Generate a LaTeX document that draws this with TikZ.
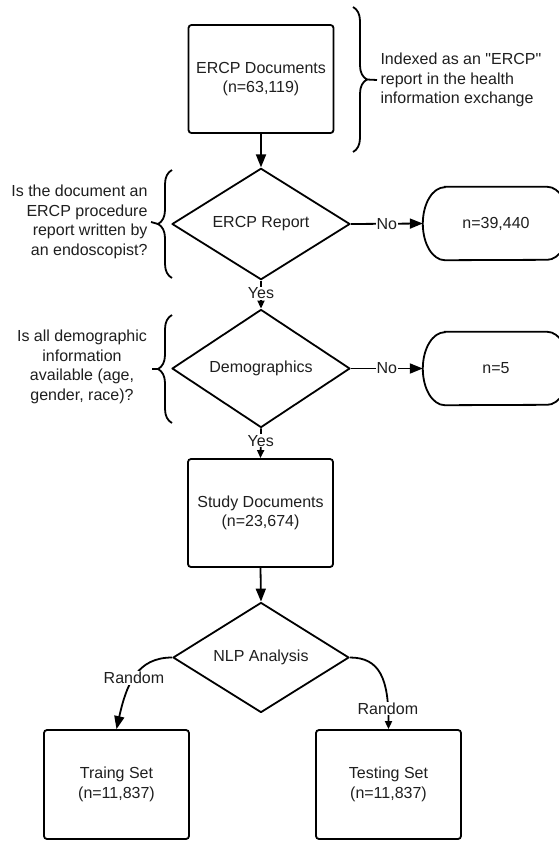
\documentclass[tikz,border=0pt]{standalone}
\usepackage{fontspec}
\setmainfont{Liberation Sans}[Ligatures=TeXOff]
\usetikzlibrary{shapes.geometric,arrows.meta,decorations.pathreplacing}
\newcommand{\drawterm}[1]{\draw[line width=1.8pt] ([xshift=22pt]#1.north west) -- ([xshift=-22pt]#1.north east) arc[start angle=90,end angle=-90,x radius=22pt,y radius=36.5pt] -- ([xshift=22pt]#1.south west) arc[start angle=270,end angle=90,x radius=22pt,y radius=36.5pt] -- cycle;}
\begin{document}
\begin{tikzpicture}[x=1pt,y=-1pt,
  every node/.style={font=\fontsize{16}{19.5}\selectfont, text=black!88},
  box/.style={draw, line width=1.8pt, rounded corners=3pt, minimum width=145pt, minimum height=108pt, align=center, inner sep=0pt},
  dec/.style={draw, diamond, line width=1.8pt, line join=round, minimum width=178pt, minimum height=106pt, inner sep=0pt, align=center},
  term/.style={minimum width=146pt, minimum height=73pt, inner sep=0pt},
  conn/.style={line width=1.8pt},
  big/.style={-{Triangle[length=13pt,width=10pt]}},
  small/.style={-{Triangle[length=8pt,width=7pt]}},
  lbl/.style={fill=white, inner sep=1pt},
  brc/.style={line width=1.8pt, decorate, decoration={brace, amplitude=14pt}},
]
\useasboundingbox (0,0) rectangle (559,841);
\clip (0,0) rectangle (559,841);
\fill[white] (0,0) rectangle (559,841);

% nodes
\node[box] (docs) at (261,79) {ERCP Documents\\(n=63,119)};
\node[dec] (rep) at (261,224) {ERCP Report};
\node[term] (t1) at (496,223.5) {n=39,440};
\node[dec, minimum height=107pt] (demo) at (261,368.5) {Demographics};
\node[term] (t2) at (496,368.5) {n=5};
\node[box] (study) at (260.5,513) {Study Documents\\(n=23,674)};
\node[dec, minimum width=176pt, minimum height=105pt] (nlp) at (261,657.5) {NLP Analysis};
\node[box, minimum height=109pt] (train) at (116.5,784.5) {Traing Set\\(n=11,837)};
\node[box, minimum height=109pt] (test) at (388.5,784.5) {Testing Set\\(n=11,837)};
\drawterm{t1}
\drawterm{t2}

% annotations
\node[anchor=west, align=left] (note1) at (377,80) {Indexed as an "ERCP"\\report in the health\\information exchange};
\node[anchor=east, align=right] (note2) at (151,222) {Is the document an\\ERCP procedure\\report written by\\an endoscopist?};
\node[align=center] (note3) at (82,367) {Is all demographic\\information\\available (age,\\gender, race)?};

\draw[brc] (353,7) -- (353,152);
\draw[conn] (367,79.5) -- (note1.west);
\draw[brc] (172,278) -- (172,170);
\draw[conn] (158,224) -- (note2.east);
\draw[brc] (172,423) -- (172,315);
\draw[conn] (158,369) -- (152,369);

% connectors
\draw[conn, big] (docs.south) -- (rep.north);
\draw[conn, big] (rep.east) -- node[lbl] {No} (t1.west);
\draw[conn, small] (rep.south) -- node[lbl, pos=0.45] {Yes} (demo.north);
\draw[conn, big] (demo.east) -- node[lbl] {No} (t2.west);
\draw[conn, small] (demo.south) -- node[lbl, pos=0.42] {Yes} (study.north);
\draw[conn, big] (study.south) -- (nlp.north);
\draw[conn, big] (nlp.west) .. controls +(-35,0) and +(10,-45) .. node[lbl, pos=0.52] {Random} (train.north);
\draw[conn, small] (nlp.east) .. controls +(30,0) and +(0,-50) .. node[lbl, pos=0.85] {Random} (test.north);
\end{tikzpicture}
\end{document}
